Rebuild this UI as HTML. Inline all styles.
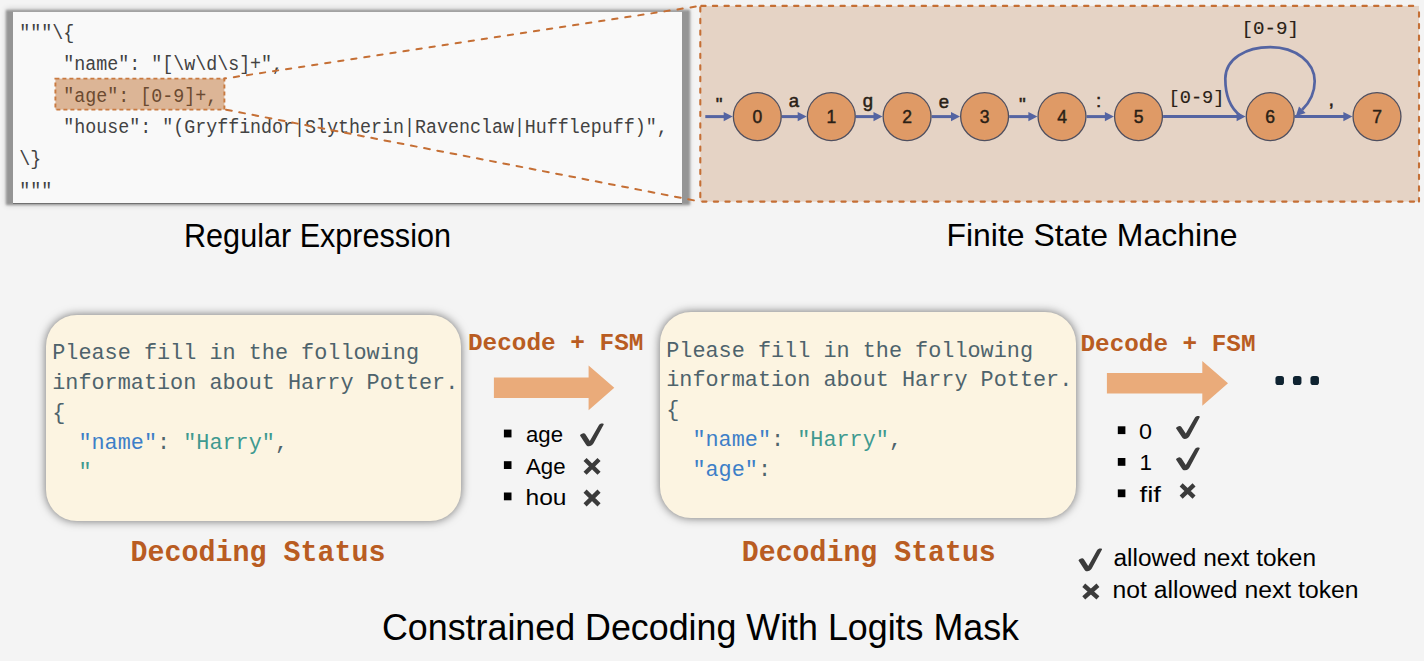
<!DOCTYPE html><html><head><meta charset="utf-8"><style>
html,body{margin:0;padding:0;background:#f4f4f4;width:1424px;height:661px;overflow:hidden;position:relative}
svg{position:absolute;left:0;top:0}
.cbshadow{position:absolute;left:5.5px;top:10.3px;width:684px;height:194.5px;background:#959595;filter:blur(1.3px)}.cbsoft{position:absolute;left:8px;top:11px;width:679px;height:192px;box-shadow:0 0 6px 2px rgba(0,0,0,0.18)}.codebox{position:absolute;left:13px;top:11px;width:669px;height:191px;background:#f9f9f9;border-top:1px solid #a3a3a3;border-bottom:1px solid #707070}
.card{position:absolute;background:#fcf4e1;border-radius:31px;box-shadow:0 0 10px 0 rgba(0,0,0,0.55)}
</style></head><body>
<div class="cbsoft"></div><div class="cbshadow"></div><div class="codebox"></div>
<div class="card" style="left:45.8px;top:314.5px;width:415.5px;height:206.4px"></div>
<div class="card" style="left:660px;top:311.8px;width:415.7px;height:206.1px"></div>
<svg width="1424" height="661" viewBox="0 0 1424 661">
<rect x="55.4" y="78.6" width="169" height="31" fill="#dcb596" stroke="#c97a40" stroke-width="1.9" stroke-dasharray="4 3"/>
<text x="19.34" y="38.5" font-family='"Liberation Mono", monospace' font-size="20.5" fill="#424242" font-weight="normal" text-anchor="start" textLength="54.95" lengthAdjust="spacingAndGlyphs" >"""\{</text>
<text x="63.3" y="70.1" font-family='"Liberation Mono", monospace' font-size="20.5" fill="#424242" font-weight="normal" text-anchor="start" textLength="219.8" lengthAdjust="spacingAndGlyphs" >"name": "[\w\d\s]+",</text>
<text x="63.3" y="101.7" font-family='"Liberation Mono", monospace' font-size="20.5" fill="#6b4a30" font-weight="normal" text-anchor="start" textLength="153.86" lengthAdjust="spacingAndGlyphs" >"age": [0-9]+,</text>
<text x="63.3" y="133.3" font-family='"Liberation Mono", monospace' font-size="20.5" fill="#424242" font-weight="normal" text-anchor="start" textLength="604.45" lengthAdjust="spacingAndGlyphs" >"house": "(Gryffindor|Slytherin|Ravenclaw|Hufflepuff)",</text>
<text x="19.34" y="164.9" font-family='"Liberation Mono", monospace' font-size="20.5" fill="#424242" font-weight="normal" text-anchor="start" textLength="21.98" lengthAdjust="spacingAndGlyphs" >\}</text>
<text x="19.34" y="196.5" font-family='"Liberation Mono", monospace' font-size="20.5" fill="#424242" font-weight="normal" text-anchor="start" textLength="32.97" lengthAdjust="spacingAndGlyphs" >"""</text>
<rect x="700.3" y="5.9" width="718.7" height="195.7" fill="#e5d3c5"/><g stroke="#c56f35" stroke-width="2.1" stroke-dasharray="4.3 7.3" stroke-linecap="round" fill="none"><path d="M 700.3 5.9 H 1419" stroke-dashoffset="10.6"/><path d="M 700.3 201.6 V 5.9" stroke-dashoffset="7.2"/><path d="M 700.3 201.6 H 1419" stroke-dashoffset="9.7"/><path d="M 1419 201.6 V 5.9" stroke-dashoffset="0.7"/></g>
<line x1="700.3" y1="5.9" x2="224.4" y2="78.6" stroke="#c56f35" stroke-width="2" stroke-dasharray="5.3 7.9" stroke-dashoffset="8.6" stroke-linecap="round"/>
<line x1="700.3" y1="201.6" x2="224.4" y2="109.4" stroke="#c56f35" stroke-width="2" stroke-dasharray="5.85 7.6" stroke-dashoffset="6.95" stroke-linecap="round"/>
<line x1="705.3" y1="116.6" x2="724.6999999999999" y2="116.6" stroke="#5464a2" stroke-width="3"/>
<polygon points="732.6999999999999,116.6 723.6999999999999,112.0 723.6999999999999,121.19999999999999" fill="#5464a2"/>
<line x1="781.9" y1="116.6" x2="798.6999999999999" y2="116.6" stroke="#5464a2" stroke-width="3"/>
<polygon points="806.6999999999999,116.6 797.6999999999999,112.0 797.6999999999999,121.19999999999999" fill="#5464a2"/>
<line x1="855.9" y1="116.6" x2="874.5" y2="116.6" stroke="#5464a2" stroke-width="3"/>
<polygon points="882.5,116.6 873.5,112.0 873.5,121.19999999999999" fill="#5464a2"/>
<line x1="931.7" y1="116.6" x2="952.0" y2="116.6" stroke="#5464a2" stroke-width="3"/>
<polygon points="960.0,116.6 951.0,112.0 951.0,121.19999999999999" fill="#5464a2"/>
<line x1="1009.2" y1="116.6" x2="1029.4" y2="116.6" stroke="#5464a2" stroke-width="3"/>
<polygon points="1037.4,116.6 1028.4,112.0 1028.4,121.19999999999999" fill="#5464a2"/>
<line x1="1086.6" y1="116.6" x2="1105.9" y2="116.6" stroke="#5464a2" stroke-width="3"/>
<polygon points="1113.9,116.6 1104.9,112.0 1104.9,121.19999999999999" fill="#5464a2"/>
<line x1="1163.1" y1="116.6" x2="1237.6000000000001" y2="116.6" stroke="#5464a2" stroke-width="3"/>
<polygon points="1245.6000000000001,116.6 1236.6000000000001,112.0 1236.6000000000001,121.19999999999999" fill="#5464a2"/>
<line x1="1294.8" y1="116.6" x2="1344.4" y2="116.6" stroke="#5464a2" stroke-width="3"/>
<polygon points="1352.4,116.6 1343.4,112.0 1343.4,121.19999999999999" fill="#5464a2"/>
<path d="M 1240.5 115.8 C 1230 108, 1225.3 95, 1225.3 78.6 C 1225.5 58.5, 1246 47.1, 1270.3 47.1 C 1296 47.1, 1314.7 62.5, 1314.7 81.2 C 1314.7 94, 1309 103, 1302.2 109.8" fill="none" stroke="#5464a2" stroke-width="2.7"/>
<polygon points="1295.8,116.2 1305.6,113 1299,106.4" fill="#5464a2"/>
<circle cx="757.3" cy="116.6" r="23.950000000000003" fill="#df9a66" stroke="#4f4f5f" stroke-width="1.3"/>
<text x="757.3" y="123.2" font-family='"Liberation Sans", sans-serif' font-size="17.5" fill="#2a1f16" font-weight="normal" text-anchor="middle" stroke="#2a1f16" stroke-width="0.45">0</text>
<circle cx="831.3" cy="116.6" r="23.950000000000003" fill="#df9a66" stroke="#4f4f5f" stroke-width="1.3"/>
<text x="831.3" y="123.2" font-family='"Liberation Sans", sans-serif' font-size="17.5" fill="#2a1f16" font-weight="normal" text-anchor="middle" stroke="#2a1f16" stroke-width="0.45">1</text>
<circle cx="907.1" cy="116.6" r="23.950000000000003" fill="#df9a66" stroke="#4f4f5f" stroke-width="1.3"/>
<text x="907.1" y="123.2" font-family='"Liberation Sans", sans-serif' font-size="17.5" fill="#2a1f16" font-weight="normal" text-anchor="middle" stroke="#2a1f16" stroke-width="0.45">2</text>
<circle cx="984.6" cy="116.6" r="23.950000000000003" fill="#df9a66" stroke="#4f4f5f" stroke-width="1.3"/>
<text x="984.6" y="123.2" font-family='"Liberation Sans", sans-serif' font-size="17.5" fill="#2a1f16" font-weight="normal" text-anchor="middle" stroke="#2a1f16" stroke-width="0.45">3</text>
<circle cx="1062.0" cy="116.6" r="23.950000000000003" fill="#df9a66" stroke="#4f4f5f" stroke-width="1.3"/>
<text x="1062.0" y="123.2" font-family='"Liberation Sans", sans-serif' font-size="17.5" fill="#2a1f16" font-weight="normal" text-anchor="middle" stroke="#2a1f16" stroke-width="0.45">4</text>
<circle cx="1138.5" cy="116.6" r="23.950000000000003" fill="#df9a66" stroke="#4f4f5f" stroke-width="1.3"/>
<text x="1138.5" y="123.2" font-family='"Liberation Sans", sans-serif' font-size="17.5" fill="#2a1f16" font-weight="normal" text-anchor="middle" stroke="#2a1f16" stroke-width="0.45">5</text>
<circle cx="1270.2" cy="116.6" r="23.950000000000003" fill="#df9a66" stroke="#4f4f5f" stroke-width="1.3"/>
<text x="1270.2" y="123.2" font-family='"Liberation Sans", sans-serif' font-size="17.5" fill="#2a1f16" font-weight="normal" text-anchor="middle" stroke="#2a1f16" stroke-width="0.45">6</text>
<circle cx="1377.0" cy="116.6" r="23.950000000000003" fill="#df9a66" stroke="#4f4f5f" stroke-width="1.3"/>
<text x="1377.0" y="123.2" font-family='"Liberation Sans", sans-serif' font-size="17.5" fill="#2a1f16" font-weight="normal" text-anchor="middle" stroke="#2a1f16" stroke-width="0.45">7</text>
<text x="719" y="110.5" font-family='"Liberation Sans", sans-serif' font-size="19" fill="#2a1f16" font-weight="normal" text-anchor="middle" stroke="#2a1f16" stroke-width="0.5">"</text>
<text x="793.8" y="107.2" font-family='"Liberation Sans", sans-serif' font-size="18.5" fill="#2a1f16" font-weight="normal" text-anchor="middle" stroke="#2a1f16" stroke-width="0.5">a</text>
<text x="868" y="107.2" font-family='"Liberation Sans", sans-serif' font-size="18.5" fill="#2a1f16" font-weight="normal" text-anchor="middle" stroke="#2a1f16" stroke-width="0.5">g</text>
<text x="943.8" y="108.2" font-family='"Liberation Sans", sans-serif' font-size="18.5" fill="#2a1f16" font-weight="normal" text-anchor="middle" stroke="#2a1f16" stroke-width="0.5">e</text>
<text x="1022.3" y="110.5" font-family='"Liberation Sans", sans-serif' font-size="19" fill="#2a1f16" font-weight="normal" text-anchor="middle" stroke="#2a1f16" stroke-width="0.5">"</text>
<text x="1098.7" y="107.4" font-family='"Liberation Sans", sans-serif' font-size="19" fill="#2a1f16" font-weight="normal" text-anchor="middle" stroke="#2a1f16" stroke-width="0.5">:</text>
<text x="1168.5" y="103.2" font-family='"Liberation Mono", monospace' font-size="18.5" fill="#2a1f16" font-weight="normal" text-anchor="start" textLength="56" lengthAdjust="spacingAndGlyphs" stroke="#2a1f16" stroke-width="0.15">[0-9]</text>
<text x="1331.3" y="105.5" font-family='"Liberation Sans", sans-serif' font-size="20" fill="#2a1f16" font-weight="normal" text-anchor="middle" stroke="#2a1f16" stroke-width="0.5">,</text>
<text x="1241.5" y="33.6" font-family='"Liberation Mono", monospace' font-size="18.5" fill="#2a1f16" font-weight="normal" text-anchor="start" textLength="57.5" lengthAdjust="spacingAndGlyphs" stroke="#2a1f16" stroke-width="0.15">[0-9]</text>
<text x="184" y="246.9" font-family='"Liberation Sans", sans-serif' font-size="32.3" fill="#000" font-weight="normal" text-anchor="start" textLength="267" lengthAdjust="spacingAndGlyphs" >Regular Expression</text>
<text x="946.5" y="246.4" font-family='"Liberation Sans", sans-serif' font-size="31.7" fill="#000" font-weight="normal" text-anchor="start" textLength="291" lengthAdjust="spacingAndGlyphs" >Finite State Machine</text>
<text x="382" y="640.1" font-family='"Liberation Sans", sans-serif' font-size="37.4" fill="#000" font-weight="normal" text-anchor="start" textLength="637" lengthAdjust="spacingAndGlyphs" >Constrained Decoding With Logits Mask</text>
<text x="52.2" y="359.1" font-family='"Liberation Mono", monospace' font-size="22.5" fill="#4e636c" font-weight="normal" text-anchor="start" textLength="366.8" lengthAdjust="spacingAndGlyphs" xml:space="preserve">Please fill in the following</text>
<text x="52.2" y="388.9" font-family='"Liberation Mono", monospace' font-size="22.5" fill="#4e636c" font-weight="normal" text-anchor="start" textLength="406.1" lengthAdjust="spacingAndGlyphs" xml:space="preserve">information about Harry Potter.</text>
<text x="52.2" y="418.7" font-family='"Liberation Mono", monospace' font-size="22.5" fill="#4e636c" font-weight="normal" text-anchor="start" textLength="13.1" lengthAdjust="spacingAndGlyphs" xml:space="preserve">{</text>
<text x="52.2" y="448.5" font-family='"Liberation Mono", monospace' font-size="22.5" fill="#4e636c" font-weight="normal" text-anchor="start" textLength="26.2" lengthAdjust="spacingAndGlyphs" xml:space="preserve">  </text>
<text x="78.4" y="448.5" font-family='"Liberation Mono", monospace' font-size="22.5" fill="#3d7fc8" font-weight="normal" text-anchor="start" textLength="78.6" lengthAdjust="spacingAndGlyphs" xml:space="preserve">"name"</text>
<text x="157.0" y="448.5" font-family='"Liberation Mono", monospace' font-size="22.5" fill="#4e636c" font-weight="normal" text-anchor="start" textLength="26.2" lengthAdjust="spacingAndGlyphs" xml:space="preserve">: </text>
<text x="183.2" y="448.5" font-family='"Liberation Mono", monospace' font-size="22.5" fill="#3f9a90" font-weight="normal" text-anchor="start" textLength="91.7" lengthAdjust="spacingAndGlyphs" xml:space="preserve">"Harry"</text>
<text x="274.9" y="448.5" font-family='"Liberation Mono", monospace' font-size="22.5" fill="#4e636c" font-weight="normal" text-anchor="start" textLength="13.1" lengthAdjust="spacingAndGlyphs" xml:space="preserve">,</text>
<text x="52.2" y="478.3" font-family='"Liberation Mono", monospace' font-size="22.5" fill="#4e636c" font-weight="normal" text-anchor="start" textLength="26.2" lengthAdjust="spacingAndGlyphs" xml:space="preserve">  </text>
<text x="78.4" y="478.3" font-family='"Liberation Mono", monospace' font-size="22.5" fill="#3f9a90" font-weight="normal" text-anchor="start" textLength="13.1" lengthAdjust="spacingAndGlyphs" xml:space="preserve">"</text>
<text x="666.2" y="356.6" font-family='"Liberation Mono", monospace' font-size="22.5" fill="#4e636c" font-weight="normal" text-anchor="start" textLength="366.8" lengthAdjust="spacingAndGlyphs" xml:space="preserve">Please fill in the following</text>
<text x="666.2" y="386.4" font-family='"Liberation Mono", monospace' font-size="22.5" fill="#4e636c" font-weight="normal" text-anchor="start" textLength="406.1" lengthAdjust="spacingAndGlyphs" xml:space="preserve">information about Harry Potter.</text>
<text x="666.2" y="416.2" font-family='"Liberation Mono", monospace' font-size="22.5" fill="#4e636c" font-weight="normal" text-anchor="start" textLength="13.1" lengthAdjust="spacingAndGlyphs" xml:space="preserve">{</text>
<text x="666.2" y="446.0" font-family='"Liberation Mono", monospace' font-size="22.5" fill="#4e636c" font-weight="normal" text-anchor="start" textLength="26.2" lengthAdjust="spacingAndGlyphs" xml:space="preserve">  </text>
<text x="692.4" y="446.0" font-family='"Liberation Mono", monospace' font-size="22.5" fill="#3d7fc8" font-weight="normal" text-anchor="start" textLength="78.6" lengthAdjust="spacingAndGlyphs" xml:space="preserve">"name"</text>
<text x="771.0" y="446.0" font-family='"Liberation Mono", monospace' font-size="22.5" fill="#4e636c" font-weight="normal" text-anchor="start" textLength="26.2" lengthAdjust="spacingAndGlyphs" xml:space="preserve">: </text>
<text x="797.2" y="446.0" font-family='"Liberation Mono", monospace' font-size="22.5" fill="#3f9a90" font-weight="normal" text-anchor="start" textLength="91.7" lengthAdjust="spacingAndGlyphs" xml:space="preserve">"Harry"</text>
<text x="888.9" y="446.0" font-family='"Liberation Mono", monospace' font-size="22.5" fill="#4e636c" font-weight="normal" text-anchor="start" textLength="13.1" lengthAdjust="spacingAndGlyphs" xml:space="preserve">,</text>
<text x="666.2" y="475.8" font-family='"Liberation Mono", monospace' font-size="22.5" fill="#4e636c" font-weight="normal" text-anchor="start" textLength="26.2" lengthAdjust="spacingAndGlyphs" xml:space="preserve">  </text>
<text x="692.4" y="475.8" font-family='"Liberation Mono", monospace' font-size="22.5" fill="#3d7fc8" font-weight="normal" text-anchor="start" textLength="65.5" lengthAdjust="spacingAndGlyphs" xml:space="preserve">"age"</text>
<text x="757.9" y="475.8" font-family='"Liberation Mono", monospace' font-size="22.5" fill="#4e636c" font-weight="normal" text-anchor="start" textLength="13.1" lengthAdjust="spacingAndGlyphs" xml:space="preserve">:</text>
<text x="130.4" y="561.1" font-family='"Liberation Mono", monospace' font-size="30" fill="#b95c22" font-weight="bold" text-anchor="start" textLength="255" lengthAdjust="spacingAndGlyphs" >Decoding Status</text>
<text x="741.8" y="561.4" font-family='"Liberation Mono", monospace' font-size="30" fill="#b95c22" font-weight="bold" text-anchor="start" textLength="254" lengthAdjust="spacingAndGlyphs" >Decoding Status</text>
<text x="468" y="349.6" font-family='"Liberation Mono", monospace' font-size="24.5" fill="#b95c22" font-weight="bold" text-anchor="start" textLength="175.5" lengthAdjust="spacingAndGlyphs" >Decode + FSM</text>
<text x="1080.5" y="351.2" font-family='"Liberation Mono", monospace' font-size="24.5" fill="#b95c22" font-weight="bold" text-anchor="start" textLength="175" lengthAdjust="spacingAndGlyphs" >Decode + FSM</text>
<polygon points="493.9,377.5 588.6,377.5 588.6,365.4 614.3,387.8 588.6,410.2 588.6,398 493.9,398" fill="#eaab7a"/>
<polygon points="1106.9,373 1202.3,373 1202.3,360.9 1228,383.3 1202.3,405.7 1202.3,393.5 1106.9,393.5" fill="#eaab7a"/>
<rect x="1275.45" y="376" width="8.5" height="9" rx="2.6" ry="2.8" fill="#0f2331"/>
<rect x="1292.95" y="376" width="8.5" height="9" rx="2.6" ry="2.8" fill="#0f2331"/>
<rect x="1310.45" y="376" width="8.5" height="9" rx="2.6" ry="2.8" fill="#0f2331"/>
<rect x="503.9" y="429.6" width="7.6" height="7.8" fill="#000"/>
<rect x="503.9" y="461.2" width="7.6" height="7.8" fill="#000"/>
<rect x="503.9" y="492.5" width="7.6" height="7.8" fill="#000"/>
<text x="526" y="441.6" font-family='"Liberation Sans", sans-serif' font-size="22" fill="#000" font-weight="normal" text-anchor="start" textLength="37" lengthAdjust="spacingAndGlyphs" >age</text>
<text x="526" y="473.7" font-family='"Liberation Sans", sans-serif' font-size="22" fill="#000" font-weight="normal" text-anchor="start" textLength="39.5" lengthAdjust="spacingAndGlyphs" >Age</text>
<text x="525.5" y="504.6" font-family='"Liberation Sans", sans-serif' font-size="22" fill="#000" font-weight="normal" text-anchor="start" textLength="41" lengthAdjust="spacingAndGlyphs" >hou</text>
<path d="M 580.00 435.55 C 580.60 434.15, 582.60 433.16, 584.00 433.36 C 584.80 433.46, 585.30 433.95, 585.60 434.55 L 589.80 440.92 L 598.70 425.39 C 599.50 424.00, 601.00 423.40, 602.20 423.50 C 603.20 423.60, 604.00 423.90, 603.70 424.59 L 594.20 442.12 C 593.20 444.11, 592.00 446.20, 589.00 446.20 C 587.60 446.30, 586.80 445.80, 586.20 444.91 Z" fill="#3b3b3b"/>
<path d="M 585.06 459.46 L 599.04 473.24 M 599.04 459.46 L 585.06 473.24" stroke="#3b3b3b" stroke-width="4.4" stroke-linecap="butt"/>
<path d="M 585.06 491.16 L 599.04 504.94 M 599.04 491.16 L 585.06 504.94" stroke="#3b3b3b" stroke-width="4.4" stroke-linecap="butt"/>
<rect x="1117.8" y="426.3" width="7.6" height="7.8" fill="#000"/>
<rect x="1117.8" y="458" width="7.6" height="7.8" fill="#000"/>
<rect x="1117.8" y="489.4" width="7.6" height="7.8" fill="#000"/>
<text x="1139" y="438.6" font-family='"Liberation Sans", sans-serif' font-size="22" fill="#000" font-weight="normal" text-anchor="start" textLength="13" lengthAdjust="spacingAndGlyphs" >0</text>
<text x="1139.5" y="470.4" font-family='"Liberation Sans", sans-serif' font-size="22" fill="#000" font-weight="normal" text-anchor="start" textLength="12.5" lengthAdjust="spacingAndGlyphs" >1</text>
<text x="1139.5" y="501.6" font-family='"Liberation Sans", sans-serif' font-size="22" fill="#000" font-weight="normal" text-anchor="start" textLength="21.5" lengthAdjust="spacingAndGlyphs" >fif</text>
<path d="M 1176.00 428.20 C 1176.60 426.80, 1178.60 425.80, 1180.00 426.00 C 1180.80 426.10, 1181.30 426.60, 1181.60 427.20 L 1185.80 433.60 L 1194.70 418.00 C 1195.50 416.60, 1197.00 416.00, 1198.20 416.10 C 1199.20 416.20, 1200.00 416.50, 1199.70 417.20 L 1190.20 434.80 C 1189.20 436.80, 1188.00 438.90, 1185.00 438.90 C 1183.60 439.00, 1182.80 438.50, 1182.20 437.60 Z" fill="#3b3b3b"/>
<path d="M 1176.00 459.60 C 1176.60 458.20, 1178.60 457.20, 1180.00 457.40 C 1180.80 457.50, 1181.30 458.00, 1181.60 458.60 L 1185.80 465.00 L 1194.70 449.40 C 1195.50 448.00, 1197.00 447.40, 1198.20 447.50 C 1199.20 447.60, 1200.00 447.90, 1199.70 448.60 L 1190.20 466.20 C 1189.20 468.20, 1188.00 470.30, 1185.00 470.30 C 1183.60 470.40, 1182.80 469.90, 1182.20 469.00 Z" fill="#3b3b3b"/>
<path d="M 1181.16 484.96 L 1194.04 497.04 M 1194.04 484.96 L 1181.16 497.04" stroke="#3b3b3b" stroke-width="4.4" stroke-linecap="butt"/>
<path d="M 1078.50 560.50 C 1079.10 559.10, 1081.08 558.10, 1082.47 558.30 C 1083.26 558.40, 1083.76 558.90, 1084.05 559.50 L 1088.22 565.90 L 1097.04 550.30 C 1097.84 548.90, 1099.33 548.30, 1100.51 548.40 C 1101.51 548.50, 1102.30 548.80, 1102.00 549.50 L 1092.58 567.10 C 1091.59 569.10, 1090.40 571.20, 1087.42 571.20 C 1086.04 571.30, 1085.24 570.80, 1084.65 569.90 Z" fill="#3b3b3b"/>
<path d="M 1083.76 585.26 L 1097.94 597.94 M 1097.94 585.26 L 1083.76 597.94" stroke="#3b3b3b" stroke-width="4.4" stroke-linecap="butt"/>
<text x="1113.5" y="566.2" font-family='"Liberation Sans", sans-serif' font-size="23.5" fill="#000" font-weight="normal" text-anchor="start" textLength="202.5" lengthAdjust="spacingAndGlyphs" >allowed next token</text>
<text x="1112.5" y="597.8" font-family='"Liberation Sans", sans-serif' font-size="23.5" fill="#000" font-weight="normal" text-anchor="start" textLength="246" lengthAdjust="spacingAndGlyphs" >not allowed next token</text>
</svg></body></html>
